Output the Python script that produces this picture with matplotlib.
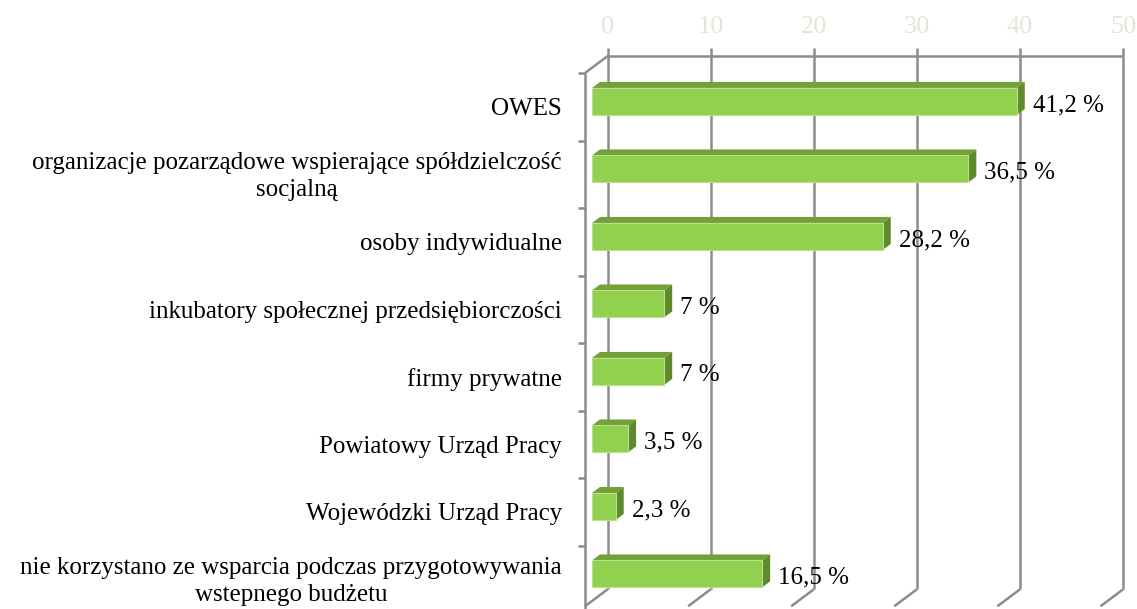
import numpy as np
import matplotlib.pyplot as plt
from matplotlib.patches import Polygon
from matplotlib.transforms import IdentityTransform, offset_copy

# data
categories = [
    "OWES",
    "organizacje pozarządowe wspierające spółdzielczość\nsocjalną",
    "osoby indywidualne",
    "inkubatory społecznej przedsiębiorczości",
    "firmy prywatne",
    "Powiatowy Urząd Pracy",
    "Wojewódzki Urząd Pracy",
    "nie korzystano ze wsparcia podczas przygotowywania\nwstepnego budżetu",
]
values = [41.2, 36.5, 28.2, 7, 7, 3.5, 2.3, 16.5]
x_ticks = [0, 10, 20, 30, 40, 50]

FONT = "Liberation Serif"
GRID = "#8c8c8c"
FRONT = "#92d050"
TOP = "#74a03a"
SIDE = "#5f8b2e"

# depth offsets (pixels, display coords) relative to the bar plane
BACK = (15.7, 11.7)
FRONT_PLANE = (-7.0, -5.3)
BAR_DEPTH = (8.0, 6.0)

fig = plt.figure(figsize=(11.37, 6.09), dpi=100)
W, H = 1137, 609
ax = fig.add_axes([592 / W, (H - 607.7) / H, 515.5 / W, 540 / H])
ax.set_xlim(0, 50)
ax.set_ylim(len(categories) - 0.5, -0.5)
ax.axis("off")

ident = IdentityTransform()


def px(x, y, off=(0, 0)):
    p = ax.transData.transform((x, y))
    return p[0] + off[0], p[1] + off[1]


def seg(p1, p2, **kw):
    ax.plot([p1[0], p2[0]], [p1[1], p2[1]], transform=ident, clip_on=False,
            color=GRID, lw=1.8, solid_capstyle="butt", **kw)


y_top = -0.5
y_bot = len(categories) - 0.6

# back wall gridlines, ticks above and floor lines
for v in x_ticks:
    seg(px(v, y_top, BACK), px(v, y_bot, BACK), zorder=1)
    t = px(v, y_top, BACK)
    seg(t, (t[0], t[1] + 8), zorder=1)
    b = px(v, y_bot, BACK)
    seg(b, px(v, y_bot, FRONT_PLANE), zorder=1)
    ax.text(t[0], t[1] + 29, str(v), transform=ident, ha="center", va="center",
            fontsize=19, color="#e8e4d4", family=FONT)

# top edge of back wall
seg(px(0, y_top, BACK), px(50, y_top, BACK), zorder=1)
# left wall
seg(px(0, y_top, BACK), px(0, y_top, FRONT_PLANE), zorder=1)
seg(px(0, y_top, FRONT_PLANE), px(0, len(categories), FRONT_PLANE), zorder=1)
for i in range(len(categories)):
    p = px(0, i - 0.5, FRONT_PLANE)
    seg(p, (p[0] - 7, p[1]), zorder=1)

# 3d bars
ypos = np.arange(len(categories))
hh = 0.2
ax.barh(ypos, values, height=2 * hh, color=FRONT, edgecolor="#b8e08e",
        linewidth=0.8, zorder=3)
for y, v in zip(ypos, values):
    a = px(0, y - hh)
    b = px(v, y - hh)
    c = px(v, y + hh)
    top = [a, b, (b[0] + BAR_DEPTH[0], b[1] + BAR_DEPTH[1]),
           (a[0] + BAR_DEPTH[0], a[1] + BAR_DEPTH[1])]
    side = [b, c, (c[0] + BAR_DEPTH[0], c[1] + BAR_DEPTH[1]),
            (b[0] + BAR_DEPTH[0], b[1] + BAR_DEPTH[1])]
    ax.add_patch(Polygon(top, closed=True, transform=ident, facecolor=TOP,
                         edgecolor="none", zorder=2, clip_on=False))
    ax.add_patch(Polygon(side, closed=True, transform=ident, facecolor=SIDE,
                         edgecolor="none", zorder=2, clip_on=False))
    lbl = f"{v:g}".replace(".", ",") + " %"
    ax.text(v, y, lbl, transform=offset_copy(ax.transData, fig, x=16, y=-4, units="dots"),
            ha="left", va="center", fontsize=18, family=FONT, color="black", zorder=4)

# category labels
lab_tr = offset_copy(ax.transData, fig, x=-30, y=FRONT_PLANE[1] - 2.5, units="dots")
for y, c in zip(ypos, categories):
    ax.text(0, y, c, transform=lab_tr, ha="right", va="center", multialignment="center",
            fontsize=18, family=FONT, color="black", linespacing=1.3)

fig.savefig("out.png", dpi=100)
